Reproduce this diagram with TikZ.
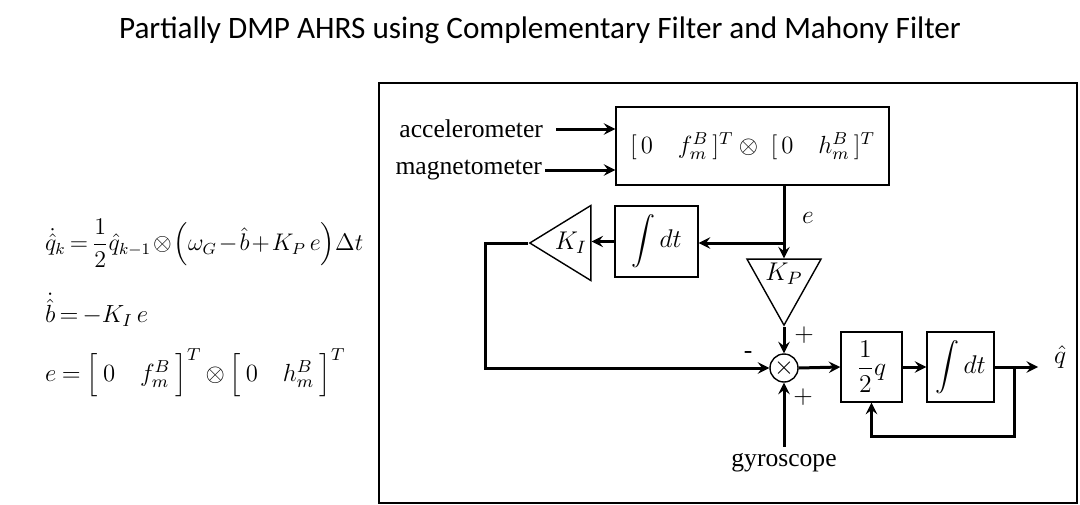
\RequirePackage{fix-cm}
\documentclass[tikz,border=0pt]{standalone}
\usepackage{amsmath}
\usepackage{fontspec}
\setmainfont{Liberation Serif}
\newfontfamily\titlefont{Carlito}
\usetikzlibrary{shapes.geometric, arrows}
\tikzstyle{blk} = [rectangle, draw=black, line width=0.7pt, inner sep=0pt, text centered]
\tikzstyle{gain} = [isosceles triangle, isosceles triangle stretches, draw=black, line width=0.7pt, inner sep=0pt]
\tikzstyle{sig} = [line width=1.5pt, ->, >=stealth]
\tikzstyle{wire} = [line width=1.5pt]
\tikzstyle{lbl} = [font=\fontsize{12.8}{15}\selectfont]
\tikzstyle{eqn} = [anchor=west, font=\fontsize{12.4}{15}\selectfont]

\begin{document}
\begin{tikzpicture}[x=0.5pt, y=-0.5pt, lbl]
\useasboundingbox (0,0) rectangle (1080,504);

\node (title) at (540,30) {\titlefont\fontsize{15.6}{18}\selectfont Partially DMP AHRS using Complementary Filter and Mahony Filter};

% equations
\node (eq1) [eqn, font=\fontsize{12}{15}\selectfont] at (38,243) {\medmuskip=1.5mu\thickmuskip=3mu$\displaystyle \dot{\hat{q}}_k=\frac{1}{2}\hat{q}_{k-1}\otimes\Bigl(\omega_G-\hat{b}+K_P\,e\Bigr)\Delta t$};
\node (eq2) [eqn] at (38,310) {\medmuskip=1.5mu\thickmuskip=3mu$\dot{\hat{b}}=-K_I\,e$};
\node (eq3) [eqn] at (38,373) {\medmuskip=3mu\thickmuskip=4mu$e=\Big[\;0\quad f_m^B\;\Big]^T\otimes\Big[\;0\quad h_m^B\;\Big]^T$};

% frame
\draw [line width=1pt] (379,83) rectangle (1077,503);

% blocks
\node (err) [blk, minimum width=136.5pt, minimum height=39pt, font=\fontsize{12.4}{15}\selectfont] at (752.5,146) {$[\,0\quad f_m^B\,]^T\otimes\;[\,0\quad h_m^B\,]^T$};
\node (intg) [blk, minimum width=41.5pt, minimum height=35.5pt] at (656.5,241.5) {$\displaystyle\int dt$};
\node (KI) [gain, shape border rotate=180, anchor=apex, minimum width=37.5pt, minimum height=30.5pt] at (528,243) {$K_I$};
\node (KP) [gain, shape border rotate=270, anchor=apex, minimum width=37pt, minimum height=24pt] at (784,327) {\raisebox{-2pt}{$K_P$}};
\node (mix) [circle, draw=black, line width=0.7pt, minimum size=14pt, inner sep=0pt] at (784,368) {$\times$};
\node (half) [blk, minimum width=30.5pt, minimum height=35pt] at (871.5,367) {$\dfrac{1}{2}q$};
\node (int2) [blk, minimum width=33.5pt, minimum height=35pt] at (960.5,367) {$\displaystyle\int dt$};

% inputs and labels
\node (acc) [anchor=east] at (550,129) {accelerometer};
\node (mag) [anchor=east] at (549,170) {magnetometer};
\node (gyro) at (784,463) {gyroscope};
\node (qhat) at (1060,357) {$\hat{q}$};
\node (elbl) at (808,218) {$e$};
\node (pl1) at (804,335) {$+$};
\node (pl2) at (803,397) {$+$};
\node (mn) at (748,355) {-};

\coordinate (ebr) at (784,243);
\coordinate (fb) at (485,368);
\coordinate (tap) at (1014,367);
\coordinate (fbr) at (1014,436);
\coordinate (out) at (1038,367);

% connectors
\draw [sig] ([xshift=3pt]acc.east) -- (acc.east -| err.west);
\draw [sig] ([xshift=-2pt]mag.east) -- (mag.east -| err.west);
\draw [wire] (err.south -| ebr) -- (ebr);
\draw [sig] (ebr) -- (KP.north);
\draw [sig] (ebr) -- (ebr -| intg.east);
\draw [sig] (intg.west) -- (intg.west -| KI.east);
\draw [sig] (KI.apex) -| (fb) -- (mix.west);
\draw [sig] (KP.apex) -- (mix.north);
\draw [sig] (gyro.north) -- (mix.south);
\draw [sig] (mix.east) -- (half.west);
\draw [sig] (half.east) -- (int2.west);
\draw [sig] (int2.east) -- (out);
\draw [sig] (tap) -- (fbr) -| (half.south);

\end{tikzpicture}
\end{document}
